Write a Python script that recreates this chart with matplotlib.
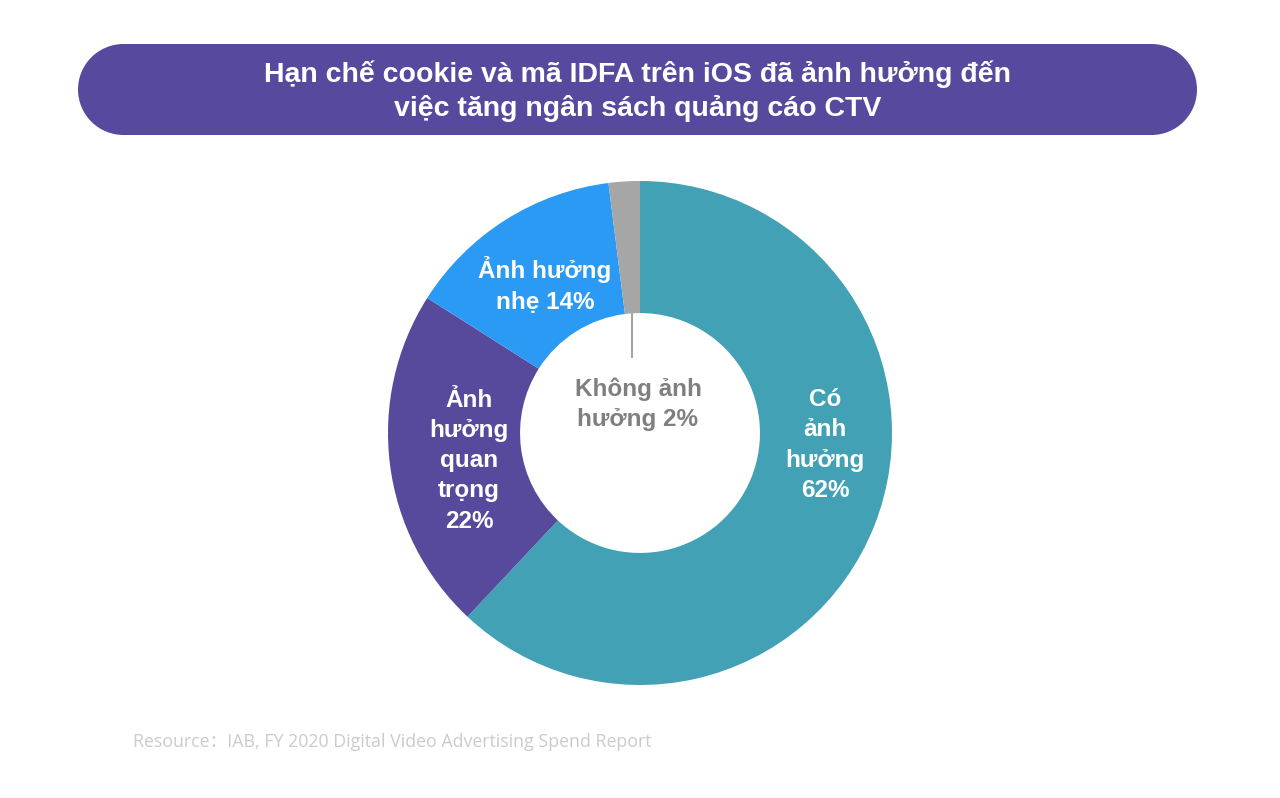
import numpy as np
import matplotlib.pyplot as plt
from matplotlib.patches import Rectangle, Circle

# data
labels = ['Có\nảnh\nhưởng\n62%', 'Ảnh\nhưởng\nquan\ntrọng\n22%', 'Ảnh hưởng\nnhẹ 14%', 'Không ảnh\nhưởng 2%']
values = [62, 22, 14, 2]
colors = ['#42A1B4', '#574A9D', '#2A9AF4', '#A6A6A6']
title = 'Hạn chế cookie và mã IDFA trên iOS đã ảnh hưởng đến\nviệc tăng ngân sách quảng cáo CTV'
source = 'Resource：IAB, FY 2020 Digital Video Advertising Spend Report'

plt.rcParams['font.family'] = ['Liberation Sans', 'DejaVu Sans']

W, H = 1280, 798
fig = plt.figure(figsize=(W / 100, H / 100), dpi=100)
fig.patch.set_facecolor('white')

# background axes in pixel coords
bg = fig.add_axes([0, 0, 1, 1])
bg.set_xlim(0, W)
bg.set_ylim(H, 0)
bg.axis('off')

# pill shaped title box
bx0, bx1, by0, by1 = 78, 1197, 44, 135
br = (by1 - by0) / 2
box_c = '#574A9E'
bg.add_patch(Rectangle((bx0 + br, by0), bx1 - bx0 - 2 * br, by1 - by0, facecolor=box_c, edgecolor='none'))
bg.add_patch(Circle((bx0 + br, by0 + br), br, facecolor=box_c, edgecolor='none'))
bg.add_patch(Circle((bx1 - br, by0 + br), br, facecolor=box_c, edgecolor='none'))
bg.text(638, 91, title, color='white', fontsize=20.5, fontweight='bold',
        ha='center', va='center', linespacing=1.35)
bg.text(133, 742, source, color='#CBCBCB', fontsize=12.8, ha='left', va='center',
        family=['Open Sans', 'Noto Sans CJK SC', 'DejaVu Sans'])

# donut
cx, cy, r = 640, 433, 252
ax = fig.add_axes([(cx - r) / W, (H - cy - r) / H, 2 * r / W, 2 * r / H])
inner = 0.476
wedges, _ = ax.pie(values, colors=colors, startangle=90, counterclock=False,
                   radius=1, wedgeprops=dict(width=1 - inner, edgecolor='none'))
ax.set_xlim(-1, 1)
ax.set_ylim(-1, 1)
ax.axis('off')

# label positions (data coords of pie axes)
pos = [(0.734, -0.048), (-0.678, -0.11), (-0.377, 0.587), (-0.008, 0.115)]
tcolors = ['white', 'white', 'white', '#7F7F7F']
for lab, (x, y), c in zip(labels, pos, tcolors):
    ax.text(x, y, lab, color=c, fontsize=17.5, fontweight='bold', ha='center',
            va='center', linespacing=1.4)

# leader line for the small slice
w = wedges[3]
mid = np.deg2rad((w.theta1 + w.theta2) / 2)
lx = inner * np.cos(mid)
ax.plot([lx, lx], [inner * np.sin(mid), 0.30], color='#A6A6A6', lw=1.5)

fig.savefig('out.png', dpi=100)
